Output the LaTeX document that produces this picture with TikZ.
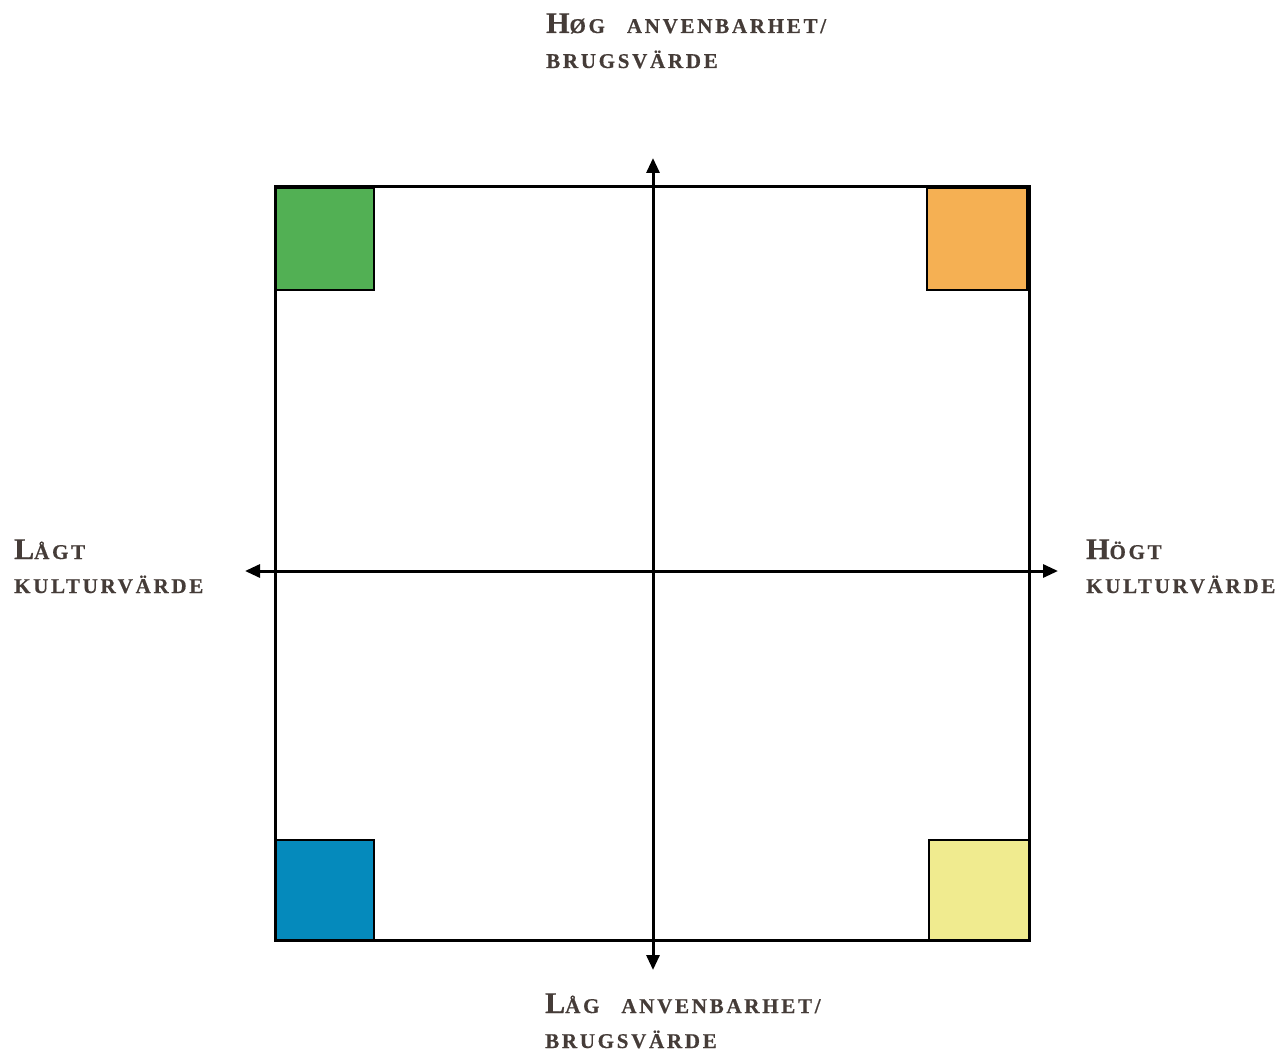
\documentclass[tikz,border=0pt]{standalone}
\usepackage{fontspec}
\usetikzlibrary{arrows.meta}
\newfontfamily\lblfont{Liberation Serif}[LetterSpace=13, BoldFeatures={FakeBold=0.6}]
\definecolor{txt}{HTML}{453C38}
\definecolor{cgreen}{HTML}{52B054}
\definecolor{corange}{HTML}{F5B053}
\definecolor{cblue}{HTML}{058ABC}
\definecolor{cyellow}{HTML}{F0EB8F}
\newcommand\Bg[1]{{\fontsize{30}{30}\selectfont #1}}
\tikzset{
  lbl/.style={anchor=base west, inner sep=0pt, text=txt,
    font=\lblfont\bfseries\fontsize{21}{24}\selectfont},
  frame/.style={line width=3pt, draw=black},
  axis/.style={line width=3pt, {Triangle[length=15pt,width=13pt]}-{Triangle[length=15pt,width=13pt]}},
  patch/.style={line width=2.4pt, draw=black},
}
\begin{document}
\begin{tikzpicture}[x=1pt,y=-1pt]
\useasboundingbox (0,0) rectangle (1276,1051);
% colored corner squares
\filldraw[patch, fill=cgreen] (275,188) rectangle (374,290);
\filldraw[patch, fill=corange] (927,188) rectangle (1027,290);
\filldraw[patch, fill=cblue] (275,840) rectangle (374,940);
\filldraw[patch, fill=cyellow] (929,840) rectangle (1029,940);
% frame
\draw[frame] (275,187) rectangle (1029,940);
% axes
\coordinate (ytop) at (653,158);
\coordinate (ybot) at (653,970);
\coordinate (xl) at (245,571);
\coordinate (xr) at (1058,571);
\draw[axis] (ybot) -- (ytop);
\draw[axis] (xl) -- (xr);
% labels
\node[lbl] (t1) at (546,33) {\Bg{H}ØG\hspace{14pt} ANVENBARHET/};
\node[lbl] (t2) at (546,68) {BRUGSVÄRDE};
\node[lbl] (b1) at (545,1013) {\Bg{L}ÅG\hspace{14pt} ANVENBARHET/};
\node[lbl] (b2) at (545,1048) {BRUGSVÄRDE};
\node[lbl] (l1) at (14,559) {\Bg{L}ÅGT};
\node[lbl] (l2) at (14,593) {KULTURVÄRDE};
\node[lbl] (r1) at (1086,559) {\Bg{H}ÖGT};
\node[lbl] (r2) at (1086,593) {KULTURVÄRDE};
\end{tikzpicture}
\end{document}
